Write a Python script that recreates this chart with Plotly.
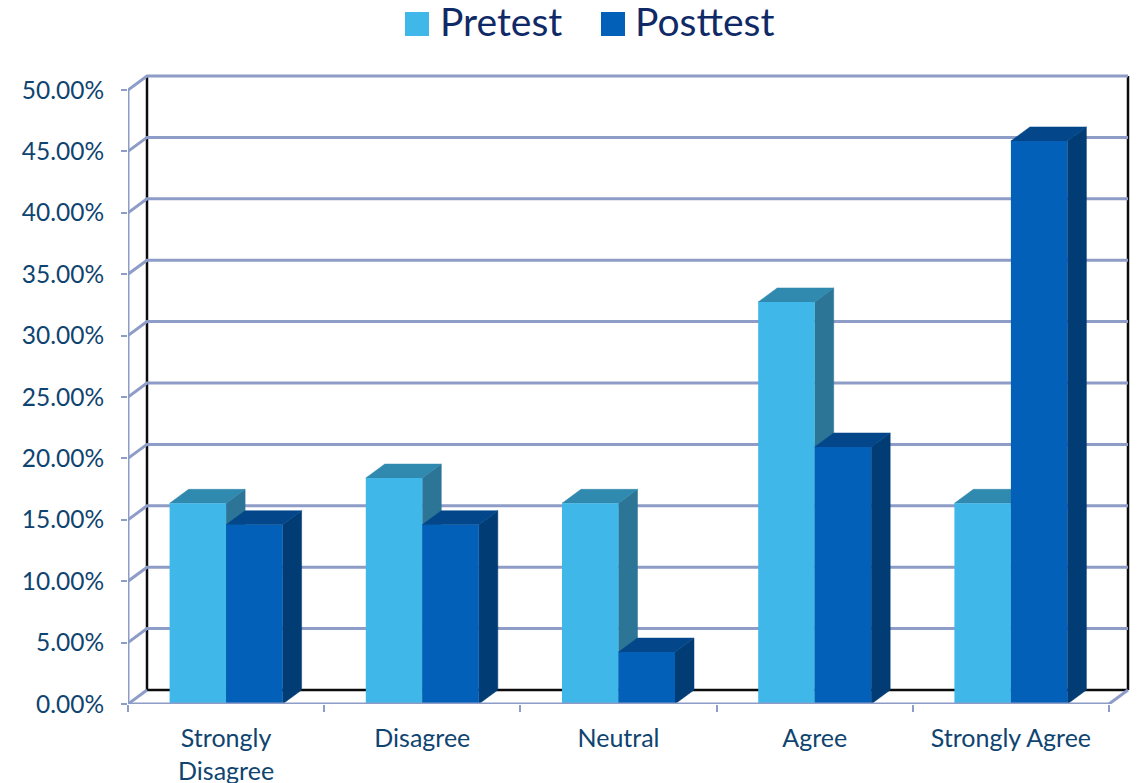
import plotly.graph_objects as go

categories = ["Strongly<br>Disagree", "Disagree", "Neutral", "Agree", "Strongly Agree"]
pretest = [16.34, 18.4, 16.34, 32.74, 16.34]
posttest = [14.6, 14.6, 4.23, 20.93, 45.85]
y_ticks = [0, 5, 10, 15, 20, 25, 30, 35, 40, 45, 50]

W, H = 1137, 783
L, R, T, B = 128, 1132, 70, 704
PX_X = 196.2
PX_Y = 12.28
DX = 19 / PX_X
DY = 14 / PX_Y
BAR_W = 56.5 / PX_X

PRE = ("#40b7e9", "#3089ae", "#2c7596")
POST = ("#0260b8", "#03478a", "#023c75")
GRID = "#8e9cc8"
BLACK = "#0c0c0c"
FONT = "Lato"
TICK_C = "#0f4470"
LEG_C = "#0f2a66"

fig = go.Figure()


def line(xs, ys, color, width, z):
    fig.add_trace(go.Scatter(x=xs, y=ys, mode="lines", showlegend=False, hoverinfo="skip",
                             cliponaxis=False, zorder=z,
                             line=dict(color=color, width=width)))


def poly(xs, ys, color, z):
    fig.add_trace(go.Scatter(x=xs, y=ys, mode="lines", fill="toself", fillcolor=color,
                             showlegend=False, hoverinfo="skip", cliponaxis=False, zorder=z,
                             line=dict(color=color, width=0.5)))


n = len(categories)
# back wall
line([DX, DX], [DY, 50 + DY], BLACK, 2.5, 0)
line([n + DX, n + DX], [DY, 50 + DY], BLACK, 2.5, 0)
line([DX, n + DX], [DY, DY], BLACK, 2.5, 0)
# gridlines: side wall then back wall
for v in y_ticks[1:]:
    line([0, DX, n + DX], [v, v + DY, v + DY], GRID, 3, 0)
# floor diagonals and front axes
line([0, DX], [0, DY], GRID, 3, 0)
line([n, n + DX], [0, DY], GRID, 3, 0)
line([0, 0], [0, 50], GRID, 3, 0)
line([0, n], [0, 0], GRID, 3, 6)

centers = [i + 0.5 for i in range(n)]
for vals, cols, name, off, z in ((pretest, PRE, "Pretest", -BAR_W, 1),
                                 (posttest, POST, "Posttest", 0.0, 3)):
    for c, v in zip(centers, vals):
        x0 = c + off
        x1 = x0 + BAR_W
        poly([x1, x1 + DX, x1 + DX, x1, x1], [0, DY, v + DY, v, 0], cols[2], z)
        poly([x0, x0 + DX, x1 + DX, x1, x0], [v, v + DY, v + DY, v, v], cols[1], z)
    fig.add_trace(go.Bar(x=centers, y=vals, width=BAR_W, offset=off, name=name, zorder=z + 1,
                         marker=dict(color=cols[0], line=dict(width=0)), showlegend=False))


def px(x):
    return (x - L) / (R - L)


def py(y):
    return (B - y) / (B - T)


shapes = []
annotations = []
for label, color, sq_x, text_x in (("Pretest", PRE[0], 405, 438), ("Posttest", POST[0], 601, 633)):
    shapes.append(dict(type="rect", xref="paper", yref="paper", x0=px(sq_x), x1=px(sq_x + 24),
                       y0=py(36), y1=py(12), fillcolor=color, line=dict(width=0)))
    annotations.append(dict(text=label, xref="paper", yref="paper", x=px(text_x), y=py(20.5),
                            xanchor="left", yanchor="middle", showarrow=False,
                            font=dict(family=FONT, size=39, color=LEG_C)))

fig.update_layout(
    width=W, height=H, margin=dict(l=L, r=W - R, t=T, b=H - B, pad=0),
    paper_bgcolor="white", plot_bgcolor="white", barmode="overlay", showlegend=False,
    font=dict(family=FONT), shapes=shapes, annotations=annotations,
    xaxis=dict(range=[0, (R - L) / PX_X], tickmode="array", tickvals=centers, ticktext=categories,
               automargin=False, showgrid=False, zeroline=False, showline=False, ticks="outside",
               ticklen=12, tickcolor="rgba(0,0,0,0)",
               tickfont=dict(family=FONT, size=25, color=TICK_C),
               minor=dict(tickmode="array", tickvals=list(range(n + 1)), ticks="outside",
                          ticklen=7, tickwidth=1.5, tickcolor=GRID, showgrid=False)),
    yaxis=dict(range=[0, (B - T) / PX_Y], tickmode="array", tickvals=y_ticks,
               ticktext=[f"{v:.2f}%" for v in y_ticks], automargin=False, showgrid=False,
               zeroline=False, showline=False, ticks="outside", ticklen=6, tickwidth=1.5,
               tickcolor=GRID, ticklabelstandoff=12,
               tickfont=dict(family=FONT, size=24.5, color=TICK_C)),
)

fig.write_html("out.html", config=dict(displayModeBar=False),
               post_script="document.body.style.margin='0';")
